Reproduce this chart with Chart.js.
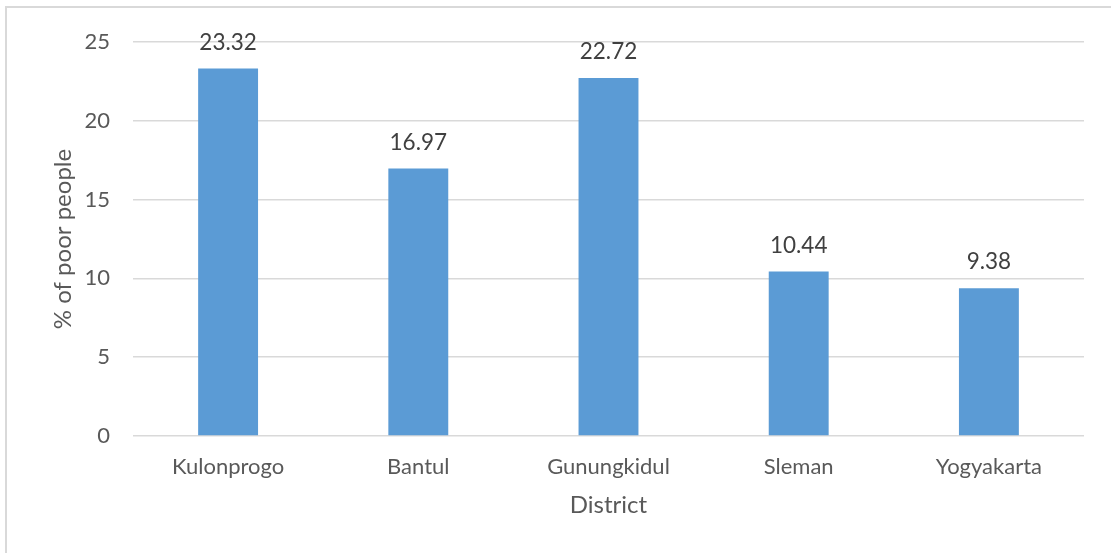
<!DOCTYPE html>
<html>
<head>
<meta charset="utf-8">
<script src="https://cdn.jsdelivr.net/npm/chart.js@4.4.1/dist/chart.umd.min.js"></script>
<style>
  html, body { margin: 0; padding: 0; background: #fff; }
  #frame {
    position: absolute; left: 5px; top: 6px; width: 1106px; height: 547px;
    border-left: 2px solid #d9d9d9; border-top: 2px solid #d9d9d9;
  }
  #wrap { position: absolute; left: 0; top: 0; width: 1111px; height: 553px; }
</style>
</head>
<body>
<div id="frame"></div>
<div id="wrap"><canvas id="povertyChart"></canvas></div>
<script>
// Data
const districts = ["Kulonprogo", "Bantul", "Gunungkidul", "Sleman", "Yogyakarta"];
const poorPercent = [23.32, 16.97, 22.72, 10.44, 9.38];
const yTicks = [0, 5, 10, 15, 20, 25];

const FONT = "Lato, 'Open Sans', sans-serif";
const TEXT = "#595959";

// Draw value labels above each bar
const valueLabels = {
  id: "valueLabels",
  afterDatasetsDraw(chart) {
    const ctx = chart.ctx;
    const meta = chart.getDatasetMeta(0);
    ctx.save();
    ctx.font = "22.5px " + FONT;
    ctx.fillStyle = "#404040";
    ctx.textAlign = "center";
    ctx.textBaseline = "middle";
    meta.data.forEach(function (bar, i) {
      ctx.fillText(poorPercent[i].toFixed(2), bar.x, bar.y - 26);
    });
    ctx.restore();
  }
};

document.addEventListener("DOMContentLoaded", function () {
  const canvas = document.getElementById("povertyChart");

  new Chart(canvas, {
    type: "bar",
    data: {
      labels: districts,
      datasets: [
        {
          label: "% of poor people",
          data: poorPercent,
          backgroundColor: "#5B9BD5",
          borderWidth: 0,
          categoryPercentage: 1,
          barPercentage: 0.315,
        },
      ],
    },
    options: {
      responsive: true,
      maintainAspectRatio: false,
      animation: false,
      layout: { padding: { left: 49, top: 42, right: 27, bottom: 33 } },
      plugins: {
        legend: { display: false },
        tooltip: { enabled: false },
      },
      scales: {
        x: {
          grid: { display: false, drawTicks: false },
          border: { display: false },
          ticks: { color: TEXT, font: { family: FONT, size: 22 }, padding: 18 },
          title: {
            display: true,
            text: "District",
            color: TEXT,
            font: { family: FONT, size: 24 },
            padding: 0,
          },
          afterFit: function (scale) { scale.height = 84; },
        },
        y: {
          min: 0,
          max: 25,
          afterBuildTicks: function (scale) {
            scale.ticks = yTicks.map(function (v) { return { value: v }; });
          },
          grid: { color: "#d9d9d9", lineWidth: 1.5, drawTicks: false },
          border: { display: false },
          ticks: { color: TEXT, font: { family: FONT, size: 22 }, padding: 23 },
          title: {
            display: true,
            text: "% of poor people",
            color: TEXT,
            font: { family: FONT, size: 24 },
            padding: 0,
          },
          afterFit: function (scale) { scale.width = 84; },
        },
      },
    },
    plugins: [valueLabels],
  });
});
</script>
</body>
</html>
